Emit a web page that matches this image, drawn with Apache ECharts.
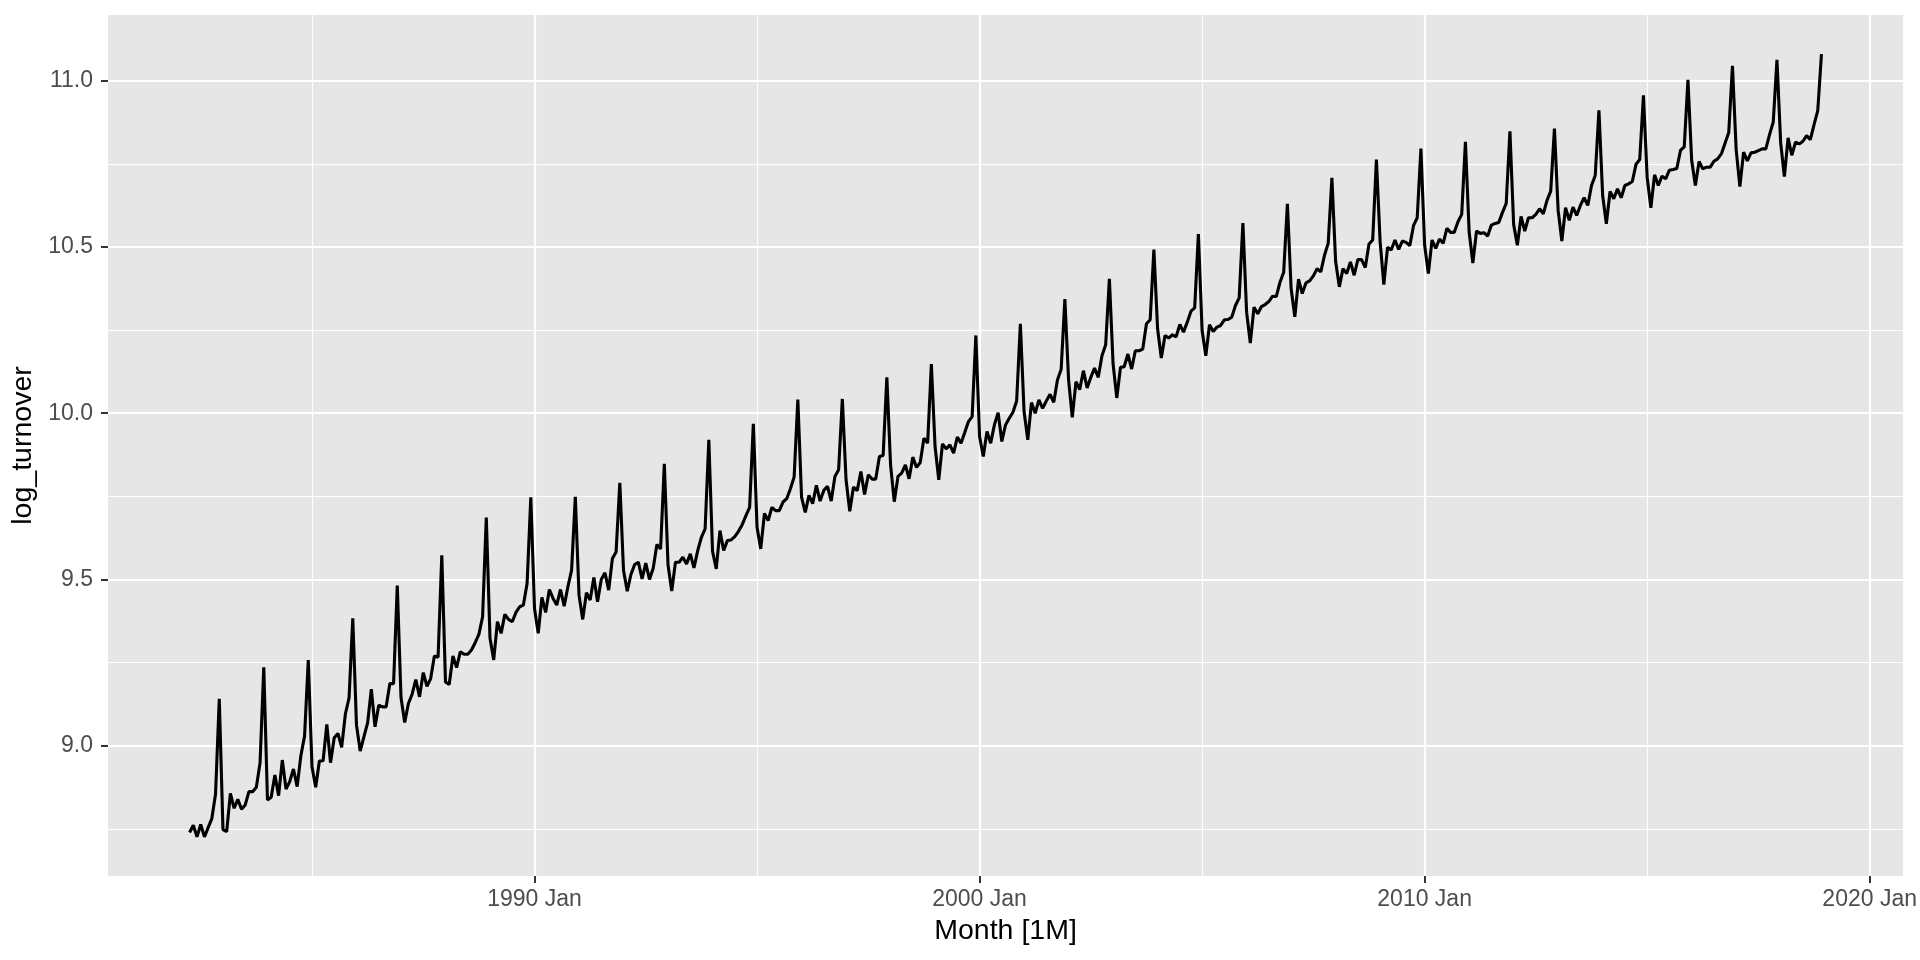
<!DOCTYPE html>
<html>
<head>
<meta charset="utf-8">
<script src="https://cdn.jsdelivr.net/npm/echarts@6/dist/echarts.min.js"></script>
<style>
html,body{margin:0;padding:0;background:#fff;}
#chart{width:1920px;height:960px;}
</style>
</head>
<body>
<div id="chart"></div>
<script>
// Monthly series: first observation April 1982, last December 2018
const startYear = 1982;
const startMonth = 4;
const logTurnover = [
  // 1982 (Apr-Dec)
  8.739, 8.761, 8.726, 8.763, 8.726, 8.754, 8.781, 8.855, 9.141,
  // 1983
  8.748, 8.742, 8.857, 8.812, 8.839, 8.809, 8.822, 8.862, 8.862, 8.875, 8.949, 9.236,
  // 1984
  8.837, 8.845, 8.912, 8.850, 8.957, 8.870, 8.892, 8.930, 8.877, 8.970, 9.029, 9.258,
  // 1985
  8.937, 8.875, 8.954, 8.955, 9.064, 8.949, 9.024, 9.037, 8.995, 9.095, 9.144, 9.383,
  // 1986
  9.062, 8.984, 9.027, 9.069, 9.170, 9.057, 9.122, 9.117, 9.117, 9.187, 9.187, 9.482,
  // 1987
  9.145, 9.070, 9.127, 9.155, 9.199, 9.147, 9.220, 9.179, 9.202, 9.270, 9.266, 9.573,
  // 1988
  9.192, 9.184, 9.270, 9.235, 9.283, 9.275, 9.275, 9.288, 9.310, 9.335, 9.388, 9.686,
  // 1989
  9.323, 9.258, 9.373, 9.338, 9.395, 9.380, 9.373, 9.401, 9.418, 9.423, 9.488, 9.747,
  // 1990
  9.413, 9.338, 9.446, 9.401, 9.470, 9.443, 9.423, 9.470, 9.420, 9.478, 9.528, 9.749,
  // 1991
  9.453, 9.380, 9.460, 9.438, 9.506, 9.433, 9.500, 9.520, 9.468, 9.563, 9.583, 9.791,
  // 1992
  9.527, 9.465, 9.515, 9.545, 9.552, 9.502, 9.549, 9.500, 9.534, 9.605, 9.592, 9.848,
  // 1993
  9.544, 9.465, 9.552, 9.552, 9.567, 9.547, 9.577, 9.535, 9.587, 9.627, 9.652, 9.920,
  // 1994
  9.585, 9.532, 9.647, 9.587, 9.617, 9.619, 9.629, 9.645, 9.665, 9.692, 9.717, 9.968,
  // 1995
  9.657, 9.592, 9.699, 9.677, 9.717, 9.707, 9.707, 9.733, 9.743, 9.773, 9.808, 10.041,
  // 1996
  9.748, 9.702, 9.753, 9.728, 9.783, 9.736, 9.768, 9.780, 9.736, 9.810, 9.830, 10.043,
  // 1997
  9.800, 9.705, 9.778, 9.767, 9.825, 9.756, 9.815, 9.802, 9.802, 9.870, 9.873, 10.108,
  // 1998
  9.845, 9.734, 9.810, 9.820, 9.845, 9.803, 9.868, 9.837, 9.852, 9.925, 9.910, 10.148,
  // 1999
  9.900, 9.800, 9.908, 9.893, 9.905, 9.880, 9.928, 9.910, 9.942, 9.975, 9.990, 10.234,
  // 2000
  9.930, 9.870, 9.945, 9.910, 9.965, 10.002, 9.915, 9.965, 9.985, 10.003, 10.037, 10.269,
  // 2001
  10.005, 9.920, 10.032, 10.000, 10.040, 10.015, 10.037, 10.057, 10.033, 10.100, 10.132, 10.343,
  // 2002
  10.100, 9.988, 10.095, 10.071, 10.128, 10.076, 10.108, 10.136, 10.108, 10.173, 10.206, 10.404,
  // 2003
  10.148, 10.046, 10.138, 10.140, 10.178, 10.133, 10.188, 10.188, 10.193, 10.269, 10.281, 10.492,
  // 2004
  10.254, 10.166, 10.234, 10.226, 10.236, 10.230, 10.267, 10.244, 10.274, 10.307, 10.317, 10.539,
  // 2005
  10.249, 10.173, 10.266, 10.246, 10.259, 10.264, 10.281, 10.282, 10.289, 10.324, 10.347, 10.572,
  // 2006
  10.304, 10.211, 10.319, 10.299, 10.321, 10.327, 10.336, 10.352, 10.351, 10.394, 10.424, 10.630,
  // 2007
  10.375, 10.290, 10.403, 10.360, 10.392, 10.398, 10.413, 10.435, 10.425, 10.475, 10.511, 10.708,
  // 2008
  10.457, 10.380, 10.435, 10.420, 10.455, 10.415, 10.462, 10.462, 10.438, 10.509, 10.521, 10.763,
  // 2009
  10.516, 10.387, 10.499, 10.491, 10.521, 10.493, 10.518, 10.514, 10.504, 10.564, 10.588, 10.796,
  // 2010
  10.506, 10.420, 10.521, 10.496, 10.524, 10.511, 10.556, 10.544, 10.544, 10.576, 10.598, 10.816,
  // 2011
  10.546, 10.452, 10.548, 10.541, 10.543, 10.533, 10.566, 10.571, 10.574, 10.604, 10.631, 10.848,
  // 2012
  10.568, 10.505, 10.592, 10.548, 10.588, 10.588, 10.598, 10.615, 10.600, 10.640, 10.668, 10.856,
  // 2013
  10.610, 10.518, 10.618, 10.580, 10.620, 10.595, 10.625, 10.648, 10.625, 10.685, 10.715, 10.911,
  // 2014
  10.655, 10.570, 10.667, 10.645, 10.675, 10.648, 10.685, 10.690, 10.697, 10.749, 10.763, 10.956,
  // 2015
  10.710, 10.618, 10.717, 10.685, 10.713, 10.705, 10.731, 10.733, 10.736, 10.791, 10.801, 11.003,
  // 2016
  10.761, 10.685, 10.757, 10.735, 10.740, 10.740, 10.758, 10.765, 10.780, 10.812, 10.844, 11.045,
  // 2017
  10.793, 10.682, 10.785, 10.759, 10.783, 10.785, 10.790, 10.795, 10.795, 10.838, 10.876, 11.063,
  // 2018
  10.813, 10.712, 10.828, 10.776, 10.815, 10.810, 10.818, 10.835, 10.823, 10.868, 10.910, 11.080
];

const xMajorYears = [1990, 2000, 2010, 2020];
const xMinorYears = [1985, 1995, 2005, 2015];
const yMajorTicks = [9.0, 9.5, 10.0, 10.5, 11.0];
const yMinorTicks = [8.75, 9.25, 9.75, 10.25, 10.75];
const xTitle = 'Month [1M]';
const yTitle = 'log_turnover';

// build [decimal-year, value] pairs
const seriesData = logTurnover.map((v, i) => {
  const mIdx = (startMonth - 1) + i;
  return [startYear + mIdx / 12, v];
});
const xs = seriesData.map(d => d[0]);
const xLo = Math.min(...xs), xHi = Math.max(...xs);
const yLo = Math.min(...logTurnover), yHi = Math.max(...logTurnover);
const xPad = (xHi - xLo) * 0.05, yPad = (yHi - yLo) * 0.05;
const xMin = xLo - xPad, xMax = xHi + xPad;
const yMin = yLo - yPad, yMax = yHi + yPad;

const FONT = '"Liberation Sans", Arial, Helvetica, sans-serif';
const chart = echarts.init(document.getElementById('chart'), null, {renderer: 'canvas'});

const hiddenAxisBase = {
  axisLine: {show: false},
  axisLabel: {show: false},
  axisTick: {show: false},
  axisPointer: {show: false}
};

chart.setOption({
  animation: false,
  backgroundColor: '#ffffff',
  grid: {
    left: 108, right: 15, top: 15, bottom: 84,
    show: true, backgroundColor: '#E6E6E6', borderWidth: 0
  },
  xAxis: [
    {
      type: 'value', min: xMin, max: xMax, position: 'bottom',
      axisLine: {show: false},
      axisTick: {show: true, customValues: xMajorYears, length: 7, lineStyle: {color: '#333333', width: 2}},
      axisLabel: {
        customValues: xMajorYears, margin: 12, color: '#4D4D4D', fontSize: 23, fontFamily: FONT,
        formatter: v => Math.round(v) + ' Jan'
      },
      splitLine: {show: true, lineStyle: {color: '#FFFFFF', width: 2.2}},
      name: xTitle, nameLocation: 'middle', nameGap: 41,
      nameTextStyle: {color: '#000000', fontSize: 28.5, fontFamily: FONT}
    },
    Object.assign({
      type: 'value', min: xMin, max: xMax, position: 'bottom',
      splitLine: {show: true, lineStyle: {color: '#FFFFFF', width: 1.1}}
    }, hiddenAxisBase, {axisTick: {show: false, customValues: xMinorYears}})
  ],
  yAxis: [
    {
      type: 'value', min: yMin, max: yMax, position: 'left',
      axisLine: {show: false},
      axisTick: {show: true, customValues: yMajorTicks, length: 7, lineStyle: {color: '#333333', width: 2}},
      axisLabel: {
        customValues: yMajorTicks, margin: 15, color: '#4D4D4D', fontSize: 23, fontFamily: FONT,
        formatter: v => v.toFixed(1)
      },
      splitLine: {show: true, lineStyle: {color: '#FFFFFF', width: 2.2}},
      name: yTitle, nameLocation: 'middle', nameGap: 61, nameRotate: 90,
      nameTextStyle: {color: '#000000', fontSize: 28.5, fontFamily: FONT}
    },
    Object.assign({
      type: 'value', min: yMin, max: yMax, position: 'left',
      splitLine: {show: true, lineStyle: {color: '#FFFFFF', width: 1.1}}
    }, hiddenAxisBase, {axisTick: {show: false, customValues: yMinorTicks}})
  ],
  series: [{
    type: 'line',
    xAxisIndex: 0, yAxisIndex: 0,
    data: seriesData,
    showSymbol: false, symbol: 'none',
    lineStyle: {color: '#000000', width: 3.1},
    silent: true
  }]
});
</script>
</body>
</html>
